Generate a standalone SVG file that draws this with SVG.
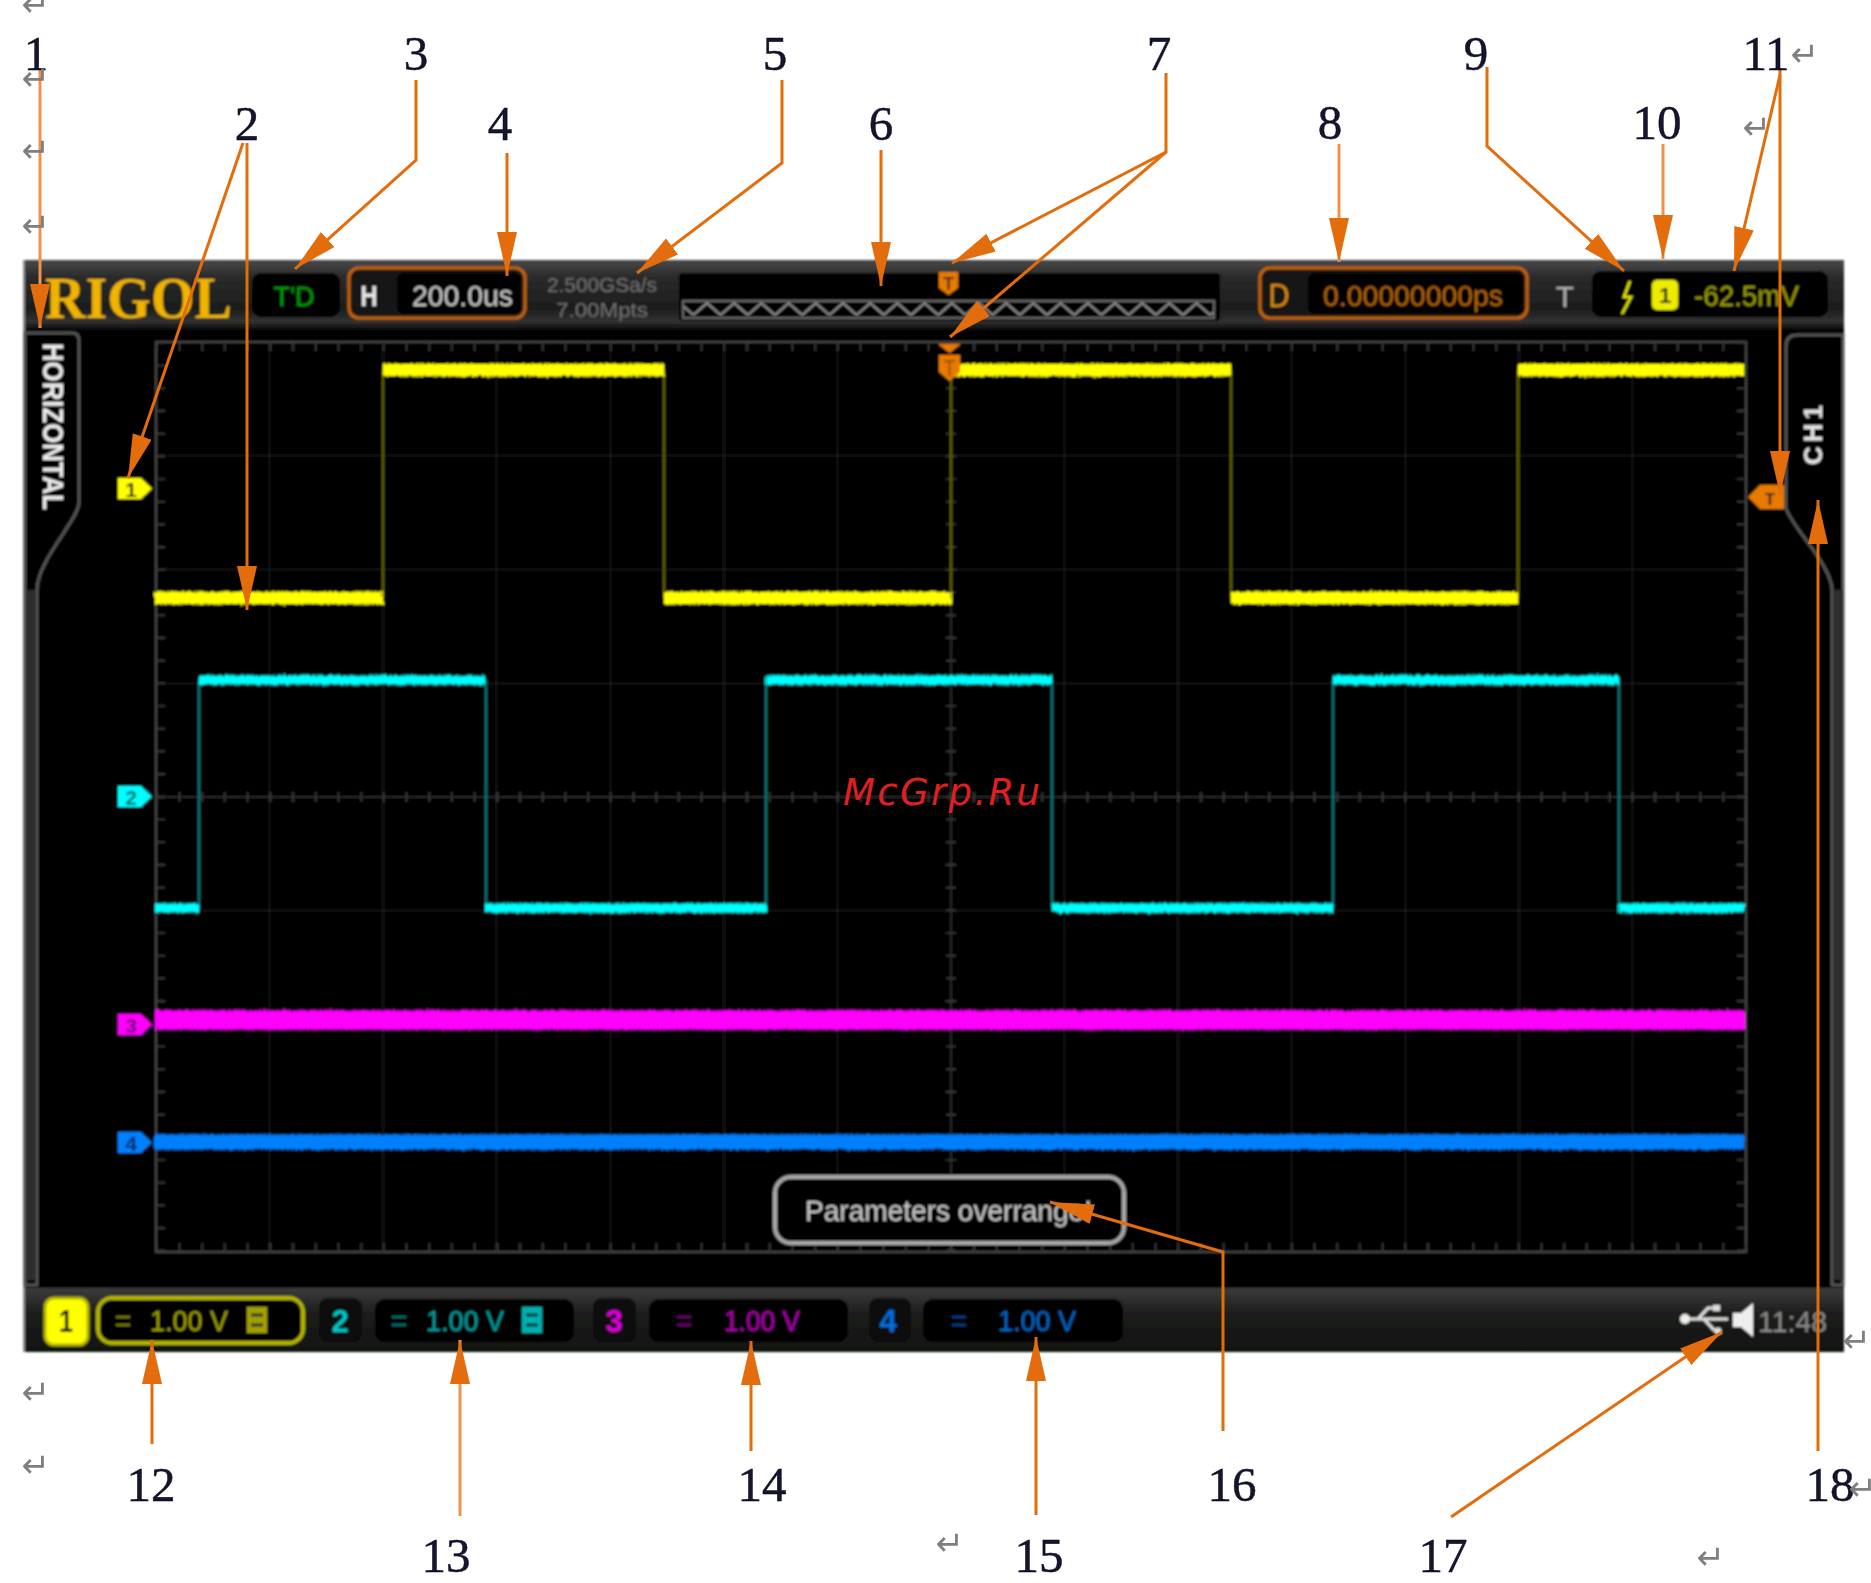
<svg xmlns="http://www.w3.org/2000/svg" width="1871" height="1583" viewBox="0 0 1871 1583">
<style>
text{font-family:"Liberation Sans",Arial,sans-serif}
.num{font-family:"Liberation Serif","Times New Roman",serif;font-size:49px;fill:#12122a;stroke:#12122a;stroke-width:.5;text-anchor:middle}
.ret{font-family:"DejaVu Sans",sans-serif;font-size:34px;fill:#7f7f7f;text-anchor:middle}
.arrow{fill:none;stroke:#e36c0a;stroke-width:3;marker-end:url(#head)}
.pale{stroke:#f0924c}
.grid{fill:none;stroke:#1e1e1e;stroke-width:1.5}
.tick{fill:none;stroke:#3c3c3c;stroke-dasharray:1.6 21.1}
.vert{fill:none;stroke-width:2.500}
.wave{fill:none}
.box{fill:#000}
.bt{font-size:29px}
</style>
<defs>
<marker id="head" markerUnits="userSpaceOnUse" markerWidth="46" markerHeight="22" refX="44" refY="10" orient="auto">
<path d="M0 0L44 10L0 20Z" fill="#e36c0a"/>
</marker>
<linearGradient id="hdr" x1="0" y1="0" x2="0" y2="1"><stop offset="0" stop-color="#4a4a4a"/><stop offset=".25" stop-color="#2a2a2a"/><stop offset=".7" stop-color="#1c1d1c"/><stop offset=".88" stop-color="#333"/><stop offset="1" stop-color="#080808"/></linearGradient>
<linearGradient id="ftr" x1="0" y1="0" x2="0" y2="1"><stop offset="0" stop-color="#3c3c3c"/><stop offset=".4" stop-color="#1d1e1c"/><stop offset="1" stop-color="#101210"/></linearGradient>
<pattern id="zig" patternUnits="userSpaceOnUse" x="693.4" y="300" width="27.2" height="19"><path d="M0 15L13.6 3L27.2 15" fill="none" stroke="#9a9a9a" stroke-width="2"/></pattern>
<filter id="soft" filterUnits="userSpaceOnUse" x="0" y="0" width="1871" height="1583"><feGaussianBlur stdDeviation="1"/></filter>
<filter id="soft2" filterUnits="userSpaceOnUse" x="0" y="0" width="1871" height="1583"><feGaussianBlur stdDeviation="0.6"/></filter>
<filter id="fuzz" filterUnits="userSpaceOnUse" x="100" y="320" width="1700" height="860" color-interpolation-filters="sRGB"><feTurbulence type="fractalNoise" baseFrequency="0.7 0.03" numOctaves="2" seed="4" result="n"/><feDisplacementMap in="SourceGraphic" in2="n" scale="5" xChannelSelector="R" yChannelSelector="G"/><feGaussianBlur stdDeviation="0.6"/></filter>
</defs>
<rect width="1871" height="1583" fill="#fff"/>

<g id="scope-screen" filter="url(#soft)">
<rect x="24" y="260" width="1820" height="1092" fill="#000"/>
<rect x="24" y="260" width="1820" height="70" fill="url(#hdr)"/>
<rect x="24" y="1288" width="1820" height="64" fill="url(#ftr)"/>
<path d="M24 260V1352" stroke="#8a8a8a" stroke-width="2" fill="none"/>

<g id="logo"><text x="45" y="318" style="font-family:'Liberation Serif',serif" font-weight="700" font-size="60" fill="#f0b400" textLength="187" lengthAdjust="spacingAndGlyphs">RIGOL</text></g>

<g id="run-status"><rect x="252" y="273" width="88" height="44" rx="9" class="box"/><text x="294" y="306" font-size="27" fill="#00a000" text-anchor="middle">T'D</text></g>

<g id="h-scale"><rect x="349" y="268" width="176" height="50" rx="10" fill="#141414" stroke="#c8640a" stroke-width="3"/><rect x="397" y="273" width="124" height="41" rx="7" class="box"/><text x="369" y="306" font-size="30" font-weight="700" fill="#e8e8e8" text-anchor="middle" textLength="17" lengthAdjust="spacingAndGlyphs">H</text><text x="412" y="306" class="bt" fill="#c8c8c8" textLength="101" lengthAdjust="spacingAndGlyphs">200.0us</text></g>

<g id="sample"><text x="547" y="292" font-size="21" fill="#707070" textLength="110" lengthAdjust="spacingAndGlyphs">2.500GSa/s</text><text x="556" y="317" font-size="21" fill="#707070" textLength="92" lengthAdjust="spacingAndGlyphs">7.00Mpts</text></g>

<g id="memory"><rect x="679" y="273" width="541" height="48" rx="4" class="box"/><rect x="683" y="301" width="531" height="17" fill="url(#zig)" stroke="#666" stroke-width="2"/></g>

<g id="mem-trigger"><path d="M939 272H958V288L948.500 295L939 288Z" fill="#e87a00"/><path d="M943 278H954M948.500 278V290" stroke="#222" stroke-width="2" fill="none"/></g>

<g id="delay"><rect x="1260" y="268" width="267" height="50" rx="10" fill="#141414" stroke="#c8640a" stroke-width="3"/><rect x="1308" y="273" width="215" height="41" rx="7" class="box"/><text x="1279" y="307" font-size="33" fill="#d98a10" text-anchor="middle" textLength="21" lengthAdjust="spacingAndGlyphs">D</text><text x="1323" y="306" class="bt" fill="#b06408" textLength="180" lengthAdjust="spacingAndGlyphs">0.00000000ps</text></g>

<g id="trigger"><text x="1565" y="307" font-size="30" fill="#b0b0b0" text-anchor="middle">T</text><rect x="1592" y="271" width="236" height="46" rx="9" class="box"/><path d="M1630 281L1624 297H1631L1622 314" fill="none" stroke="#e8e800" stroke-width="2.500"/><rect x="1652" y="280" width="26" height="30" rx="5" fill="#ecec00"/><text x="1665" y="303" font-size="22" font-weight="700" fill="#222" text-anchor="middle">1</text><text x="1694" y="306" class="bt" fill="#9c9c00" textLength="105" lengthAdjust="spacingAndGlyphs">-62.5mV</text></g>

<g id="grid">
<rect x="156" y="342" width="1590" height="910" fill="none" stroke="#444" stroke-width="2"/>
<path class="grid" d="M269.600 342V1252M383.100 342V1252M496.700 342V1252M610.300 342V1252M723.900 342V1252M837.400 342V1252M1064.600 342V1252M1178.100 342V1252M1291.700 342V1252M1405.300 342V1252M1518.900 342V1252M1632.400 342V1252M156 455.800H1746M156 569.500H1746M156 683.300H1746M156 910.800H1746M156 1024.500H1746M156 1138.300H1746"/>
<path d="M951 342V1252M156 797H1746" fill="none" stroke="#262626" stroke-width="2"/>
<path class="tick" stroke-width="9" d="M156 346.500H1746M156 1247.500H1746"/>
<path class="tick" stroke-width="9" d="M160.500 342V1252M1741.500 342V1252"/>
<path class="tick" stroke-width="10" d="M156 797H1746"/>
<path class="tick" stroke-width="10" d="M951 342V1252"/>
</g>

<g id="panel-left"><path d="M25 333H72Q79 333 79 340V502C79 520 37 560 37 590V1285H25Z" fill="#000" stroke="#555" stroke-width="3"/><path d="M26 590H36V1280H26Z" fill="#2e2e2e"/><text transform="translate(43 343) rotate(90)" font-size="29" font-weight="700" fill="#eee" textLength="167" lengthAdjust="spacingAndGlyphs">HORIZONTAL</text></g>

<g id="panel-right"><path d="M1843 335H1797Q1786 335 1786 346V508C1790 525 1832 565 1832 590V1285H1843Z" fill="#000" stroke="#555" stroke-width="3"/><path d="M1833 590H1843V1280H1833Z" fill="#2e2e2e"/><text transform="translate(1822 465) rotate(-90)" font-size="26" font-weight="700" fill="#e6e6e6" textLength="60">CH1</text></g>

<g id="waves">
<g class="vert"><path stroke="#5e5e00" d="M383 370V598M664 370V598M951 370V598M1231 370V598M1518 370V598"/><path stroke="#0a7070" d="M199 680V908M486 680V908M766 680V908M1052 680V908M1333 680V908M1619 680V908"/></g>
<g class="wave" filter="url(#fuzz)">
<path stroke="#ffff00" stroke-width="12" d="M155 598H383M383 370H664M664 598H951M951 370H1231M1231 598H1518M1518 370H1744"/>
<path stroke="#00ffff" stroke-width="9" d="M155 908H199M199 680H486M486 908H766M766 680H1052M1052 908H1333M1333 680H1619M1619 908H1744"/>
<path stroke="#ff00ff" stroke-width="19" d="M155 1020H1744"/>
<path stroke="#0080ff" stroke-width="15" d="M155 1142H1744"/>
</g>
</g>

<g id="ch1-marker"><path d="M118 478H141L152 488.500L141 499H118Z" fill="#ffff00"/><text x="131" y="497" font-size="21" font-weight="700" fill="#222" text-anchor="middle">1</text></g>
<g id="ch2-marker"><path d="M118 786H141L152 796.500L141 807H118Z" fill="#00ffff"/><text x="131" y="805" font-size="21" font-weight="700" fill="#066" text-anchor="middle">2</text></g>
<g id="ch3-marker"><path d="M118 1014H141L152 1024.500L141 1035H118Z" fill="#ff00ff"/><text x="131" y="1033" font-size="21" font-weight="700" fill="#606" text-anchor="middle">3</text></g>
<g id="ch4-marker"><path d="M118 1132H141L152 1142.500L141 1153H118Z" fill="#0080ff"/><text x="131" y="1151" font-size="21" font-weight="700" fill="#024" text-anchor="middle">4</text></g>

<g id="trig-pos"><path d="M938 344H961L949.500 353Z" fill="#e87a00"/><path d="M939 355H960V372L949.500 381L939 372Z" fill="#e87a00"/><path d="M944 361H955M949.500 361V376" stroke="#9a5000" stroke-width="2" fill="none"/></g>
<g id="trig-level"><path d="M1748 497L1760 485H1784V509H1760Z" fill="#e87a00"/><text x="1770" y="505" font-size="17" font-weight="700" fill="#222" text-anchor="middle">T</text></g>

<g id="message"><rect x="775" y="1177" width="349" height="66" rx="16" fill="#000" stroke="#a8a8a8" stroke-width="4"/><text x="805" y="1221" class="bt" fill="#c8c8c8" textLength="287" lengthAdjust="spacingAndGlyphs">Parameters overrange!</text></g>

<g id="ch1-status"><rect x="45" y="1298" width="43" height="47" rx="9" fill="#ffff00" stroke="#b4b400" stroke-width="3"/><text x="66" y="1332" font-size="31" font-weight="700" fill="#111" text-anchor="middle" textLength="14" lengthAdjust="spacingAndGlyphs">1</text><rect x="98" y="1298" width="205" height="45" rx="14" fill="#000" stroke="#b4b400" stroke-width="4"/><text x="123" y="1331" class="bt" fill="#7c7c00" text-anchor="middle">=</text><text x="150" y="1331" class="bt" fill="#a0a000" textLength="78" lengthAdjust="spacingAndGlyphs">1.00 V</text><rect x="247" y="1307" width="20" height="26" fill="#a0a000"/><path d="M251 1315H263M251 1325H263" stroke="#333" stroke-width="3"/></g>
<g id="ch2-status"><rect x="319" y="1298" width="43" height="44" rx="9" fill="#0c0c0c"/><text x="340" y="1332" font-size="31" font-weight="700" fill="#00c8c8" text-anchor="middle">2</text><rect x="375" y="1299" width="199" height="43" rx="10" class="box"/><text x="399" y="1331" class="bt" fill="#007070" text-anchor="middle">=</text><text x="426" y="1331" class="bt" fill="#00a0a0" textLength="78" lengthAdjust="spacingAndGlyphs">1.00 V</text><rect x="522" y="1307" width="20" height="26" fill="#00b0b0"/><path d="M526 1315H538M526 1325H538" stroke="#033" stroke-width="3"/></g>
<g id="ch3-status"><rect x="593" y="1298" width="43" height="44" rx="9" fill="#0c0c0c"/><text x="614" y="1332" font-size="31" font-weight="700" fill="#e000e0" text-anchor="middle">3</text><rect x="649" y="1299" width="199" height="43" rx="10" class="box"/><text x="684" y="1331" class="bt" fill="#700070" text-anchor="middle">=</text><text x="724" y="1331" class="bt" fill="#b000b0" textLength="76" lengthAdjust="spacingAndGlyphs">1.00 V</text></g>
<g id="ch4-status"><rect x="869" y="1298" width="42" height="44" rx="9" fill="#0c0c0c"/><text x="888" y="1332" font-size="31" font-weight="700" fill="#0070e0" text-anchor="middle">4</text><rect x="923" y="1299" width="200" height="43" rx="10" class="box"/><text x="959" y="1331" class="bt" fill="#004080" text-anchor="middle">=</text><text x="998" y="1331" class="bt" fill="#0068c8" textLength="78" lengthAdjust="spacingAndGlyphs">1.00 V</text></g>

<g id="status-icons"><path d="M1686 1319H1728M1698 1319L1708 1308H1716M1704 1319L1714 1330H1718" fill="none" stroke="#e0e0e0" stroke-width="3"/><circle cx="1685" cy="1319" r="5" fill="#eee"/><circle cx="1718" cy="1331" r="3.500" fill="#ddd"/><rect x="1713" y="1305" width="7" height="6" fill="#ddd"/><path d="M1733 1313H1741L1753 1303V1337L1741 1327H1733Z" fill="#eee"/><text x="1758" y="1332" font-size="29" fill="#8c8c8c" textLength="69" lengthAdjust="spacingAndGlyphs">11:48</text></g>
</g>

<g id="watermark"><text x="843" y="805" style="font-family:'DejaVu Sans',sans-serif" font-style="oblique" font-size="37" fill="#e02020" textLength="197">McGrp.Ru</text></g>

<g id="connectors" filter="url(#soft2)">
<path class="arrow pale" d="M40 68V328"/>
<path class="arrow" d="M243 143L128 478"/>
<path class="arrow" d="M247 143V610"/>
<path class="arrow" d="M416 80V160L295 269"/>
<path class="arrow" d="M507 153V276"/>
<path class="arrow" d="M782 80V163L637 273"/>
<path class="arrow" d="M881 150V286"/>
<path class="arrow" d="M1166 73V152L952 263"/>
<path class="arrow" d="M1166 152L950 337"/>
<path class="arrow pale" d="M1339 144V262"/>
<path class="arrow" d="M1487 67V146L1624 271"/>
<path class="arrow pale" d="M1663 144V259"/>
<path class="arrow" d="M1780 75L1734 271"/>
<path class="arrow" d="M1780 70V495"/>
<path class="arrow" d="M152 1444V1340"/>
<path class="arrow pale" d="M460 1516V1340"/>
<path class="arrow" d="M751 1451V1341"/>
<path class="arrow" d="M1036 1515V1337"/>
<path class="arrow" d="M1223 1431V1252L1050 1202"/>
<path class="arrow" d="M1451 1517L1722 1332"/>
<path class="arrow" d="M1818 1451V500"/>
</g>

<g id="labels" filter="url(#soft2)">
<text class="num" x="36" y="70">1</text><text class="num" x="247" y="140">2</text><text class="num" x="416" y="70">3</text><text class="num" x="500" y="140">4</text><text class="num" x="775" y="70">5</text><text class="num" x="881" y="140">6</text><text class="num" x="1159" y="70">7</text><text class="num" x="1330" y="139">8</text><text class="num" x="1476" y="70">9</text><text class="num" x="1657" y="139">10</text><text class="num" x="1766" y="70">11</text><text class="num" x="151" y="1501">12</text><text class="num" x="446" y="1572">13</text><text class="num" x="762" y="1501">14</text><text class="num" x="1039" y="1572">15</text><text class="num" x="1232" y="1501">16</text><text class="num" x="1443" y="1572">17</text><text class="num" x="1830" y="1501">18</text>
</g>

<g id="return-marks" filter="url(#soft2)">
<text class="ret" x="36" y="16">↵</text><text class="ret" x="36" y="90">↵</text><text class="ret" x="36" y="162">↵</text><text class="ret" x="36" y="237">↵</text><text class="ret" x="1805" y="66">↵</text><text class="ret" x="1757" y="139">↵</text><text class="ret" x="36" y="1404">↵</text><text class="ret" x="36" y="1477">↵</text><text class="ret" x="950" y="1555">↵</text><text class="ret" x="1711" y="1569">↵</text><text class="ret" x="1857" y="1352">↵</text><text class="ret" x="1863" y="1500">↵</text>
</g>
</svg>
